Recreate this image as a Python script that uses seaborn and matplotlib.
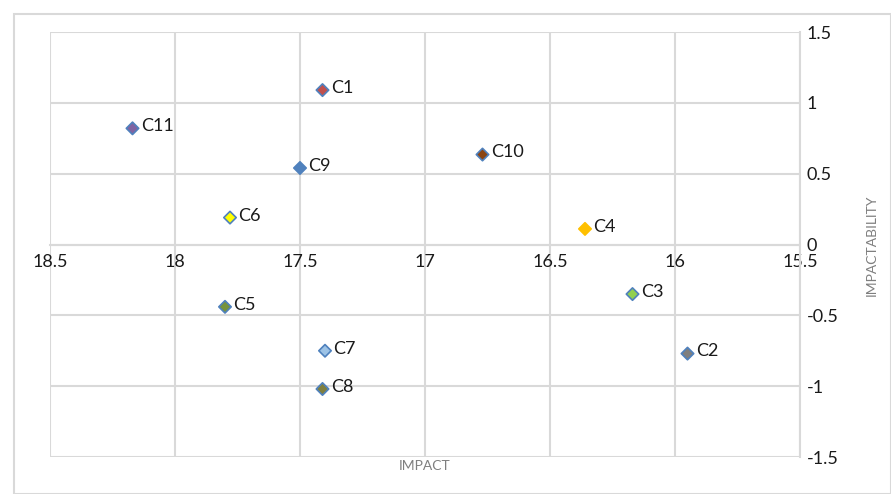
import matplotlib
matplotlib.use('Agg')
import matplotlib.pyplot as plt
import seaborn as sns
import pandas as pd
from matplotlib.patches import Rectangle

labels = ['C1', 'C2', 'C3', 'C4', 'C5', 'C6', 'C7', 'C8', 'C9', 'C10', 'C11']
impact = [17.41, 15.95, 16.17, 16.36, 17.80, 17.78, 17.40, 17.41, 17.50, 16.77, 18.17]
impactability = [1.09, -0.77, -0.35, 0.11, -0.44, 0.19, -0.75, -1.02, 0.54, 0.635, 0.82]
fill_colors = ['#c0504d', '#7f7f7f', '#92d050', '#ffc000', '#77933c', '#ffff00',
               '#9dc3e6', '#7f7f3f', '#4f81bd', '#8b4513', '#8064a2']
edge_colors = ['#4f81bd'] * 11
edge_colors[3] = '#ffc000'
x_ticks = [18.5, 18, 17.5, 17, 16.5, 16, 15.5]
y_ticks = [1.5, 1, 0.5, 0, -0.5, -1, -1.5]

df = pd.DataFrame({'label': labels, 'IMPACT': impact, 'IMPACTABILITY': impactability})

sns.set_style('white')
plt.rcParams['font.family'] = ['Lato', 'DejaVu Sans']

fig = plt.figure(figsize=(8.91, 4.94), dpi=100)
fig.patches.append(Rectangle((14 / 891, 0), 1 - 14 / 891, 1 - 14 / 494,
                             transform=fig.transFigure, fill=False,
                             edgecolor='#d9d9d9', linewidth=1.5))
ax = fig.add_axes([50 / 891, 1 - 457 / 494, 750 / 891, 425 / 494])

sns.scatterplot(data=df, x='IMPACT', y='IMPACTABILITY', hue='label',
                palette=dict(zip(labels, fill_colors)), marker='D', s=40,
                edgecolor=edge_colors, linewidth=1.2, legend=False, ax=ax, zorder=3)

for name, xv, yv in zip(labels, impact, impactability):
    ax.annotate(name, (xv, yv), xytext=(6, 1.5), textcoords='offset points',
                ha='left', va='center', fontsize=13, color='#1a1a1a')

# spine position first: it resets tick settings
for side in ['top', 'left']:
    ax.spines[side].set_visible(False)
ax.spines['bottom'].set_position(('data', 0))
for side in ['bottom', 'right']:
    ax.spines[side].set_color('#d9d9d9')
    ax.spines[side].set_linewidth(1.5)
    ax.spines[side].set_zorder(1)
ax.yaxis.tick_right()

ax.set_xlim(18.5, 15.5)
ax.set_ylim(-1.5, 1.5)
ax.set_xticks(x_ticks)
ax.set_yticks(y_ticks)
ax.set_xticklabels([f'{v:g}' for v in x_ticks])
ax.set_yticklabels([f'{v:g}' for v in y_ticks])
ax.tick_params(axis='both', length=0, labelsize=13, labelcolor='#1a1a1a')
ax.tick_params(axis='x', pad=7)
ax.tick_params(axis='y', pad=5)
ax.grid(True, color='#d9d9d9', linewidth=1.5)
ax.set_axisbelow(True)

ax.set_xlabel('')
ax.set_ylabel('')
fig.text(425 / 891, 1 - 466 / 494, 'IMPACT', ha='center', va='center',
         fontsize=10, color='#7f7f7f')
fig.text(872 / 891, 1 - 245 / 494, 'IMPACTABILITY', ha='center', va='center',
         rotation=90, fontsize=10, color='#7f7f7f')

fig.savefig('out.png', dpi=100)
